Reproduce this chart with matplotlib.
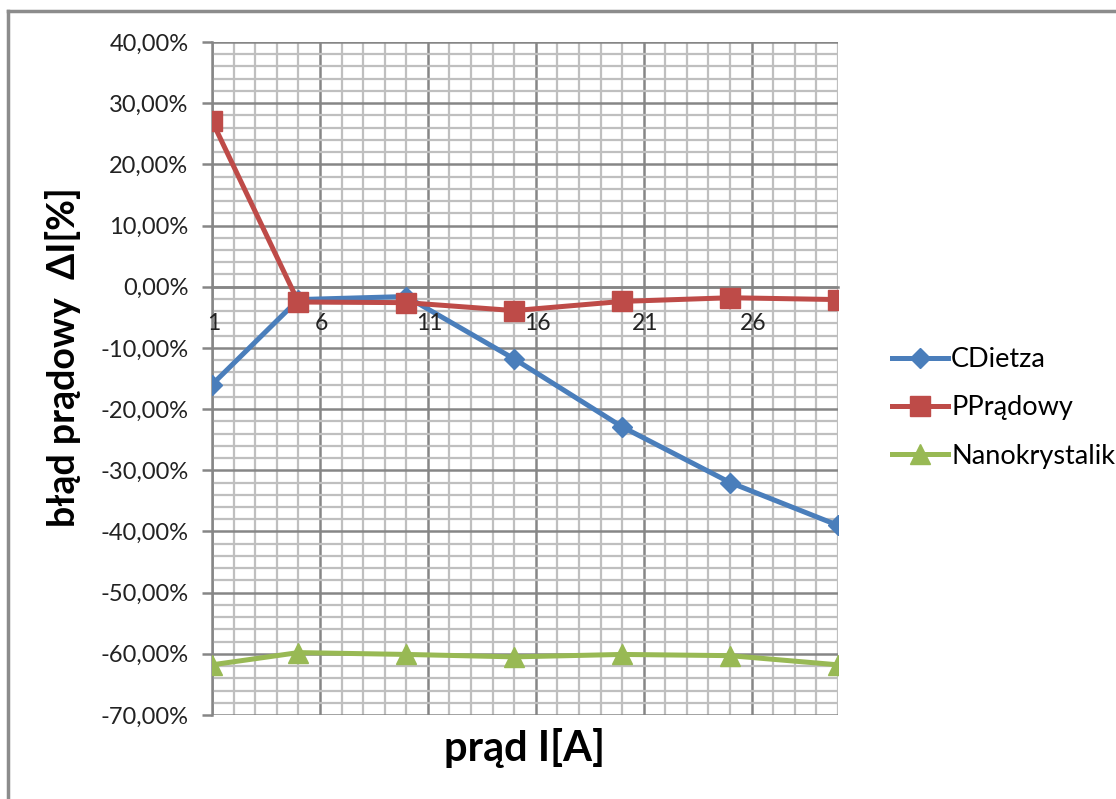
import matplotlib.pyplot as plt
from matplotlib.lines import Line2D
from matplotlib.ticker import MultipleLocator, FuncFormatter

# dane
prad = [1, 5, 10, 15, 20, 25, 30]
cdietza = [-16.0, -2.1, -1.6, -11.8, -22.9, -32.0, -39.0]
pradowy = [27.1, -2.5, -2.6, -3.9, -2.4, -1.8, -2.1]
nanokrystalik = [-61.8, -59.8, -60.1, -60.5, -60.1, -60.3, -61.8]
x_ticki = [1, 6, 11, 16, 21, 26]

plt.rcParams['font.family'] = ['Lato', 'DejaVu Sans']

fig = plt.figure(figsize=(11.16, 7.99), dpi=100)
ax = fig.add_axes([212 / 1116, 1 - 715 / 799, 626 / 1116, 673 / 799])

ax.plot(prad, cdietza, color='#4a7ebb', lw=3.6, marker='D', ms=10, label='CDietza', zorder=3)
ax.plot(prad, pradowy, color='#be4b48', lw=3.6, marker='s', ms=14, label='PPrądowy', zorder=4)
ax.plot(prad, nanokrystalik, color='#98b954', lw=3.6, marker='^', ms=14, label='Nanokrystalik', zorder=3)

ax.set_xlim(1, 30)
ax.set_ylim(-70, 40)

# siatka jak w Excelu
ax.set_xticks(x_ticki)
ax.xaxis.set_minor_locator(MultipleLocator(1))
ax.yaxis.set_major_locator(MultipleLocator(10))
ax.yaxis.set_minor_locator(MultipleLocator(2))
ax.grid(which='minor', color='#bfbfbf', lw=1.6, zorder=0)
ax.grid(which='major', color='#868686', lw=1.8, zorder=1)
ax.set_axisbelow(True)

ax.yaxis.set_major_formatter(FuncFormatter(lambda v, p: f'{v:.2f}%'.replace('.', ',')))
ax.set_xticklabels([])

# etykiety osi X przy linii zera, nad siatką
for t in x_ticki:
    ax.annotate(str(t), xy=(t, 0), xytext=(1, -31), textcoords='offset points',
                ha='center', va='baseline', fontsize=16.5, color='#222222', zorder=6)

for s in ['top', 'right']:
    ax.spines[s].set_visible(False)
ax.spines['left'].set_color('#868686')
ax.spines['left'].set_linewidth(1.8)
ax.spines['bottom'].set_position(('data', 0))
ax.spines['bottom'].set_color('#868686')
ax.spines['bottom'].set_linewidth(1.8)

ax.tick_params(axis='y', which='major', length=7, width=1.8, color='#868686',
               labelsize=17, labelcolor='#222222', pad=10)
ax.tick_params(axis='x', which='major', length=0)
ax.tick_params(which='minor', length=0)

ax.set_xlabel('prąd I[A]', fontsize=30, fontweight='bold')
ax.xaxis.set_label_coords(0.5, -0.02)
ax.set_ylabel('błąd prądowy  ΔI[%]', fontsize=27, fontweight='bold')
ax.yaxis.set_label_coords(-0.21, 0.532)

handles = [Line2D([], [], color='#4a7ebb', lw=3.6, marker='D', ms=10),
           Line2D([], [], color='#be4b48', lw=3.6, marker='s', ms=14),
           Line2D([], [], color='#98b954', lw=3.6, marker='^', ms=14)]
fig.legend(handles, ['CDietza', 'PPrądowy', 'Nanokrystalik'], loc='center left',
           bbox_to_anchor=(878 / 1116, 1 - 408 / 799), frameon=False, fontsize=19.5,
           handlelength=2.1, handletextpad=0.1, labelspacing=0.85, borderpad=0)

# ramka wykresu (widoczna tylko lewa i górna krawędź)
fig.add_artist(Line2D([8 / 1116, 8 / 1116], [0, 1 - 11 / 799], color='#8c8c8c', lw=2.5,
                      transform=fig.transFigure))
fig.add_artist(Line2D([8 / 1116, 1], [1 - 11 / 799, 1 - 11 / 799], color='#8c8c8c', lw=2.5,
                      transform=fig.transFigure))

plt.savefig('out.png', dpi=100)
